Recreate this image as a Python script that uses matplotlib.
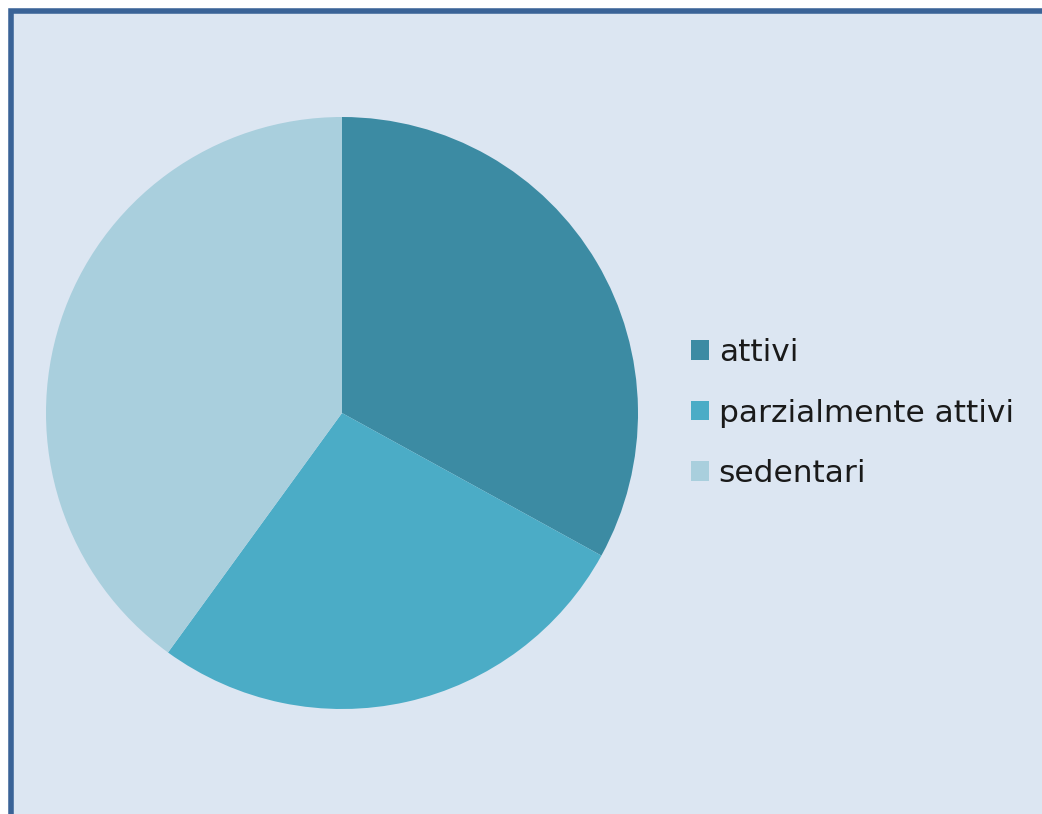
import matplotlib.pyplot as plt
from matplotlib.patches import Rectangle

# dati
categorie = ['attivi', 'parzialmente attivi', 'sedentari']
valori = [33, 27, 40]
colori = ['#3C8BA3', '#4BACC6', '#A9CFDD']

W, H = 1042, 814
fig = plt.figure(figsize=(W / 100, H / 100), dpi=100)
fig.patch.set_facecolor('white')
ax = fig.add_axes([0, 0, 1, 1])

# sfondo e bordo del grafico
ax.add_patch(Rectangle((11, -20), W + 40, H - 11 + 20, facecolor='#DCE6F2',
                       edgecolor='#3A6397', linewidth=4, zorder=0))

# torta
wedges, _ = ax.pie(valori, colors=colori, startangle=90, counterclock=False,
                   center=(342, H - 413), radius=296, frame=True)
ax.set_xlim(0, W)
ax.set_ylim(0, H)
ax.set_aspect('equal')
ax.axis('off')

# legenda
leg = ax.legend(wedges, categorie, loc='center left',
                bbox_to_anchor=(675 / W, 1 - 413 / H),
                frameon=False, fontsize=22.5, handlelength=0.6, handleheight=0.6,
                handletextpad=0.3, labelspacing=1.0, borderpad=0)
for t in leg.get_texts():
    t.set_color('#1A1A1A')

fig.savefig('out.png', dpi=100)
